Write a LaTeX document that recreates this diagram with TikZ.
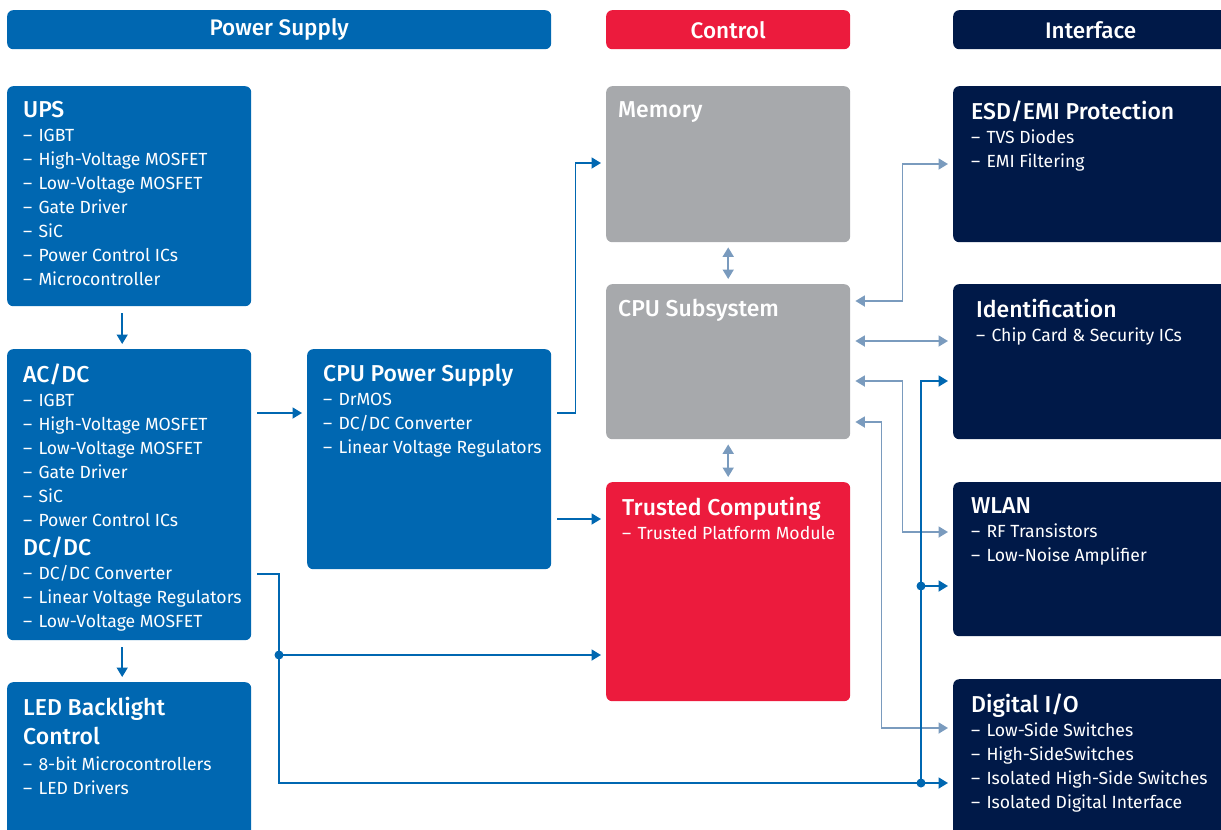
\documentclass[tikz,border=0pt]{standalone}
\usepackage{fontspec}
\setmainfont{Fira Sans}[BoldFont={Fira Sans Medium}]
\usetikzlibrary{arrows.meta}
\definecolor{psblue}{RGB}{0,103,177}
\definecolor{ctlred}{RGB}{236,27,61}
\definecolor{ifnavy}{RGB}{0,25,72}
\definecolor{memgray}{RGB}{167,169,172}
\definecolor{linkblue}{RGB}{122,155,190}

\tikzset{
  blk/.style={rounded corners=6pt, inner sep=0pt, anchor=north west},
  hdr/.style={blk, minimum height=39pt, text=white,
    font=\fontsize{22.5}{24}\selectfont\bfseries},
  lbl/.style={anchor=north west, inner sep=0pt, align=left, text=white,
    font=\fontsize{17.6}{24}\selectfont},
  tip/.tip={Triangle[length=9.5pt,width=11pt]},
  pline/.style={psblue, line width=1.8pt, -tip, shorten >=5pt},
  lline/.style={linkblue, line width=1.8pt, tip-tip, shorten >=5pt, shorten <=5pt}
}
\newcommand{\ttl}[1]{{\fontsize{23}{24}\selectfont\bfseries\strut #1}}
\newcommand{\itm}{–\hspace{1.5pt} }

\begin{document}
\begin{tikzpicture}[x=1pt, y=-1pt]
  \useasboundingbox (0,0) rectangle (1221,830);

  % column heads
  \node[hdr, fill=psblue, minimum width=544pt] (hps) at (7,10) {Power Supply};
  \node[hdr, fill=ctlred, minimum width=244pt] (hctl) at (606,10) {Control};
  \node[hdr, fill=ifnavy, minimum width=275pt] (hif) at (953,10) {Interface};

  % power supply
  \node[blk, fill=psblue, minimum width=244pt, minimum height=220pt] (ups) at (7,86) {};
  \node[blk, fill=psblue, minimum width=244pt, minimum height=291pt] (acdc) at (7,349) {};
  \node[blk, fill=psblue, minimum width=244pt, minimum height=155pt] (led) at (7,682) {};
  \node[blk, fill=psblue, minimum width=244pt, minimum height=220pt] (cpups) at (307,349) {};

  % control
  \node[blk, fill=memgray, minimum width=244pt, minimum height=156pt] (mem) at (606,86) {};
  \node[blk, fill=memgray, minimum width=244pt, minimum height=155pt] (cpu) at (606,284) {};
  \node[blk, fill=ctlred, minimum width=244pt, minimum height=219pt] (tpm) at (606,482) {};

  % interface
  \node[blk, fill=ifnavy, minimum width=275pt, minimum height=156pt] (esd) at (953,86) {};
  \node[blk, fill=ifnavy, minimum width=275pt, minimum height=155pt] (ident) at (953,284) {};
  \node[blk, fill=ifnavy, minimum width=275pt, minimum height=154pt] (wlan) at (953,482) {};
  \node[blk, fill=ifnavy, minimum width=275pt, minimum height=160pt] (dio) at (953,679) {};

  % texts
  \node[lbl] (upsT) at ([xshift=16pt,yshift=-14.5pt]ups.north west)
    {\ttl{UPS}\\\itm IGBT\\\itm High-Voltage MOSFET\\\itm Low-Voltage MOSFET\\\itm Gate Driver\\\itm SiC\\\itm Power Control ICs\\\itm Microcontroller};
  \node[lbl] (acdcT) at ([xshift=16pt,yshift=-14.5pt]acdc.north west)
    {\ttl{AC/DC}\\\itm IGBT\\\itm High-Voltage MOSFET\\\itm Low-Voltage MOSFET\\\itm Gate Driver\\\itm SiC\\\itm Power Control ICs\\[5pt]
     \ttl{DC/DC}\\\itm DC/DC Converter\\\itm Linear Voltage Regulators\\\itm Low-Voltage MOSFET};
  \node[lbl] (ledT) at ([xshift=16pt,yshift=-14.5pt]led.north west)
    {\ttl{LED Backlight}\\[4pt]\ttl{Control}\\[2pt]\itm 8-bit Microcontrollers\\\itm LED Drivers};
  \node[lbl] (cpupsT) at ([xshift=16pt,yshift=-14.5pt]cpups.north west)
    {\ttl{CPU Power Supply}\\\itm DrMOS\\\itm DC/DC Converter\\\itm Linear Voltage Regulators};
  \node[lbl] (memT) at ([xshift=12pt,yshift=-14.5pt]mem.north west) {\ttl{Memory}};
  \node[lbl] (cpuT) at ([xshift=12pt,yshift=-14.5pt]cpu.north west) {\ttl{CPU Subsystem}};
  \node[lbl] (tpmT) at ([xshift=16pt,yshift=-14.5pt]tpm.north west)
    {\ttl{Trusted Computing}\\\itm Trusted Platform Module};
  \node[lbl] (esdT) at ([xshift=18pt,yshift=-14.5pt]esd.north west)
    {\ttl{ESD/EMI Protection}\\\itm TVS Diodes\\\itm EMI Filtering};
  \node[lbl] (identT) at ([xshift=23pt,yshift=-14.5pt]ident.north west)
    {\ttl{Identification}\\\itm Chip Card \& Security ICs};
  \node[lbl] (wlanT) at ([xshift=18pt,yshift=-14.5pt]wlan.north west)
    {\ttl{WLAN}\\\itm RF Transistors\\\itm Low-Noise Amplifier};
  \node[lbl] (dioT) at ([xshift=18pt,yshift=-14.5pt]dio.north west)
    {\ttl{Digital I/O}\\\itm Low-Side Switches\\\itm High-SideSwitches\\\itm Isolated High-Side Switches\\\itm Isolated Digital Interface};

  % junctions
  \coordinate (j1) at (279,655);
  \coordinate (j2) at (921,783);
  \coordinate (j3) at (921,586);

  % control links
  \draw[lline] (mem.south) -- (cpu.north);
  \draw[lline] (cpu.south) -- (tpm.north);
  \draw[lline] ([yshift=-17pt]cpu.north east) -- ++(52,0) |- ([yshift=-78pt]esd.north west);
  \draw[lline] ([yshift=-57pt]cpu.north east) -- ([yshift=-57pt]ident.north west);
  \draw[lline] ([yshift=-97pt]cpu.north east) -- ++(52,0) |- ([yshift=-50pt]wlan.north west);
  \draw[lline] ([yshift=-138pt]cpu.north east) -- ++(31,0) |- ([yshift=-49pt]dio.north west);

  % power links
  \draw[pline, shorten <=7pt] ([xshift=-7pt]ups.south) -- ([xshift=-7pt]acdc.north);
  \draw[pline, shorten <=7pt] ([xshift=-7pt]acdc.south) -- ([xshift=-7pt]led.north);
  \draw[pline, shorten <=6pt] ([yshift=-64pt]acdc.north east) -- ([yshift=-64pt]cpups.north west);
  \draw[pline, shorten <=6pt] ([yshift=-64pt]cpups.north east) -- ++(24,0) |- ([yshift=-77pt]mem.north west);
  \draw[pline, shorten <=6pt] ([yshift=-170pt]cpups.north east) -- ([yshift=-37pt]tpm.north west);
  \draw[pline, -, shorten >=0pt, shorten <=6pt] ([yshift=-225pt]acdc.north east) -| (j1);
  \draw[pline] (j1) |- ([yshift=-104pt]dio.north west);
  \draw[pline] (j1) -- (j1 -| tpm.west);
  \draw[pline] (j2) |- ([yshift=-97pt]ident.north west);
  \draw[pline] (j3) -- (j3 -| wlan.west);
  \foreach \j in {j1,j2,j3}
    \fill[psblue] (\j) circle (4.5pt);
\end{tikzpicture}
\end{document}
